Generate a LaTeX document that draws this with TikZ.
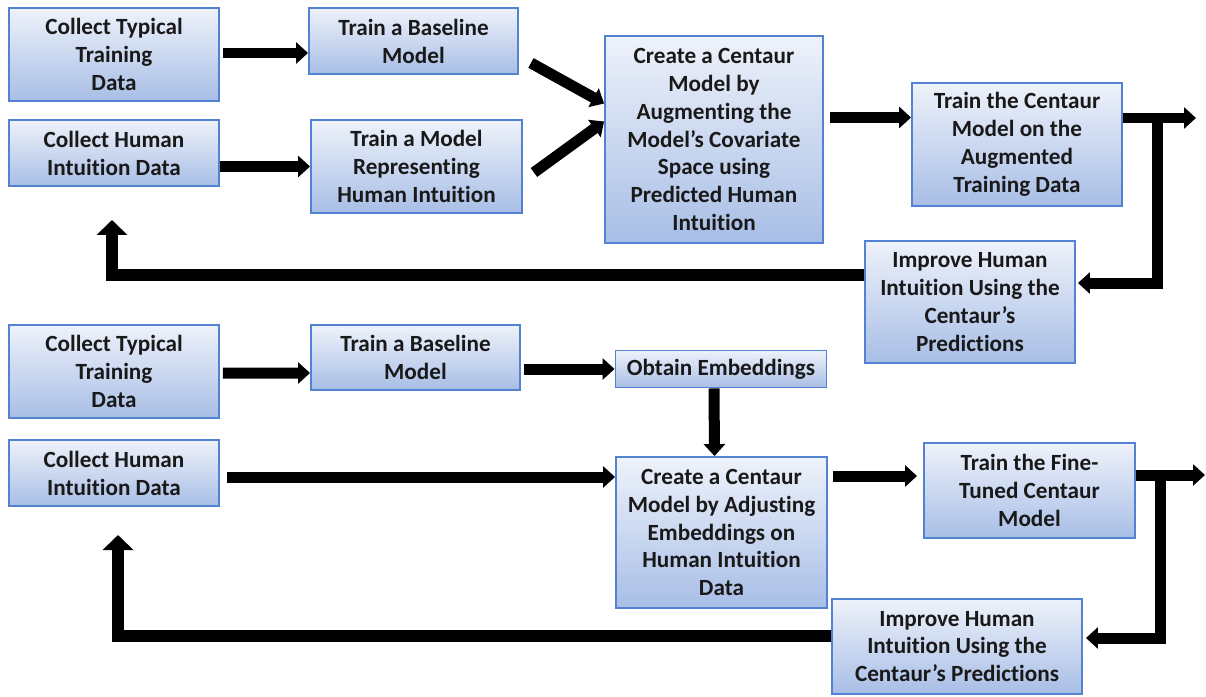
\documentclass[tikz,border=0pt]{standalone}
\usepackage{fontspec}
\setmainfont{Carlito}[RawFeature={-liga;-clig;-calt;-dlig}]
\usetikzlibrary{arrows.meta,calc}
\definecolor{boxline}{RGB}{84,130,210}
\definecolor{boxtop}{RGB}{238,242,250}
\definecolor{boxbottom}{RGB}{168,190,230}
\definecolor{boxtext}{RGB}{25,25,25}
\begin{document}
\begin{tikzpicture}[
        x=0.02cm, y=-0.02cm,
        box/.style={
            rectangle,
            draw=boxline,
            line width=1.1pt,
            top color=boxtop,
            bottom color=boxbottom,
            minimum width=4.2cm,
            align=center,
            inner sep=1pt,
            text=boxtext,
            font=\fontsize{13.2pt}{15.9pt}\selectfont\bfseries
        },
        flow/.style={
            -{Triangle[length=0.24cm, width=0.42cm]},
            line width=0.22cm
        },
        backflow/.style={
            -{Triangle[length=0.3cm, width=0.6cm]},
            line width=0.25cm
        }
    ]

    \useasboundingbox (0,0) rectangle (1206,696);

    % augmented covariate space
    \node[box, minimum height=1.86cm] (aug_collect)  at (114, 54.5)  {Collect Typical\\Training\\Data};
    \node[box, minimum height=1.32cm, minimum width=4.18cm] (aug_baseline) at (413.5, 41) {Train a Baseline\\Model};
    \node[box, minimum height=1.32cm] (aug_human)    at (114, 153)   {Collect Human\\Intuition Data};
    \node[box, minimum height=1.86cm, minimum width=4.22cm] (aug_model) at (416.5, 166.5) {Train a Model\\Representing\\Human Intuition};
    \node[box, minimum height=4.14cm, minimum width=4.36cm] (aug_create) at (714, 139.5) {Create a Centaur\\Model by\\Augmenting the\\Model’s Covariate\\Space using\\Predicted Human\\Intuition};
    \node[box, minimum height=2.46cm] (aug_train)    at (1017, 144.5) {Train the Centaur\\Model on the\\Augmented\\Training Data};
    \node[box, minimum height=2.44cm] (aug_improve)  at (970, 302)   {Improve Human\\Intuition Using the\\Centaur’s\\Predictions};

    \coordinate (aug_out)  at (1196, 118);
    \coordinate (aug_back) at (112, 220);

    \draw[flow] ($(aug_collect.east)+(3,-1.5)$) -- (aug_baseline.west |- 0,53);
    \draw[flow] (aug_human.east |- aug_model) -- (aug_model.west);
    \draw[flow] ($(aug_baseline.south east)+(12,-12)$) -- ($(aug_create.west)+(0,-36)$);
    \draw[flow] ($(aug_model.east)+(11,6)$) -- ($(aug_create.west)+(0,-18)$);
    \draw[flow] ($(aug_create.east)+(6,-22)$) -- ($(aug_train.west)+(0,-27)$);
    \draw[flow] ($(aug_train.east)+(0,-26.5)$) -- (aug_out);
    \draw[flow] (1157,113) |- ($(aug_improve.east)+(2,-19)$);
    \draw[backflow] ($(aug_improve.west)+(0,-27)$) -| (aug_back);

    % fine-tuned embeddings
    \node[box, minimum height=1.86cm] (ft_collect)  at (114, 371.5) {Collect Typical\\Training\\Data};
    \node[box, minimum height=1.3cm, minimum width=4.18cm] (ft_baseline) at (415.5, 357.5) {Train a Baseline\\Model};
    \node[box, minimum height=0.74cm, minimum width=4.22cm] (ft_embed) at (721, 369) {Obtain Embeddings};
    \node[box, minimum height=1.32cm] (ft_human)    at (114, 473)   {Collect Human\\Intuition Data};
    \node[box, minimum height=3.02cm, minimum width=4.22cm] (ft_create) at (721.5, 532.5) {Create a Centaur\\Model by Adjusting\\Embeddings on\\Human Intuition\\Data};
    \node[box, minimum height=1.9cm, minimum width=4.22cm] (ft_train) at (1029.5, 490.5) {Train the Fine-\\Tuned Centaur\\Model};
    \node[box, minimum height=1.9cm, minimum width=5cm] (ft_improve) at (957, 646.5) {Improve Human\\Intuition Using the\\Centaur’s Predictions};

    \coordinate (ft_out)  at (1205, 475);
    \coordinate (ft_back) at (118, 535);

    \draw[flow] ($(ft_collect.east)+(3,1.5)$) -- (ft_baseline.west |- 0,373);
    \draw[flow] ($(ft_baseline.east |- ft_embed)+(3,0)$) -- (ft_embed.west);
    \draw[flow] ([xshift=-0.14cm]ft_embed.south) -- ([xshift=-0.14cm]ft_create.north);
    \draw[flow] ($(ft_human.east)+(7,4)$) -- ($(ft_create.west)+(0,-55.5)$);
    \draw[flow] ($(ft_create.east)+(5,-56.5)$) -- ($(ft_train.west)+(-6,-14.5)$);
    \draw[flow] ($(ft_train.east)+(0,-15.5)$) -- (ft_out);
    \draw[flow] (1160,470) |- ($(ft_improve.east)+(3,-8.5)$);
    \draw[backflow] ($(ft_improve.west)+(0,-10.5)$) -| (ft_back);

\end{tikzpicture}
\end{document}
